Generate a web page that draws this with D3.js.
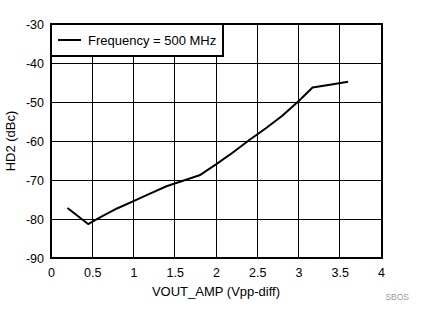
<!DOCTYPE html>
<html><head><meta charset="utf-8">
<script src="https://cdn.jsdelivr.net/npm/d3@7"></script>
<style>body{margin:0;background:#fff}svg{display:block}text{font-family:Arial,"Liberation Sans",sans-serif}</style>
</head><body>
<script>
const xValues = [0.2, 0.45, 0.6, 0.8, 1.0, 1.2, 1.4, 1.6, 1.8, 2.0, 2.2, 2.4, 2.6, 2.8, 3.0, 3.17, 3.4, 3.6];
const hd2Values = [-77.2, -81.3, -79.5, -77.3, -75.4, -73.5, -71.6, -70.2, -68.8, -66.0, -63.0, -59.8, -56.8, -53.6, -49.8, -46.3, -45.5, -44.8];
const xTicks = [0, 0.5, 1, 1.5, 2, 2.5, 3, 3.5, 4];
const yTicks = [-30, -40, -50, -60, -70, -80, -90];
const seriesName = "Frequency = 500 MHz";

const W = 426, H = 324;
const L = 51, R = 381, T = 24, B = 258;
const svg = d3.select("body").append("svg").attr("width", W).attr("height", H);
const x = d3.scaleLinear().domain([0, 4]).range([L, R]);
const y = d3.scaleLinear().domain([-90, -30]).range([B, T]);

// grid
svg.append("g").selectAll("line").data(xTicks.slice(1, -1)).join("line")
  .attr("x1", d => x(d)).attr("x2", d => x(d)).attr("y1", T).attr("y2", B)
  .attr("stroke", "#000").attr("stroke-width", 1).attr("shape-rendering", "crispEdges");
svg.append("g").selectAll("line").data(yTicks.slice(1, -1)).join("line")
  .attr("x1", L).attr("x2", R).attr("y1", d => y(d)).attr("y2", d => y(d))
  .attr("stroke", "#000").attr("stroke-width", 1).attr("shape-rendering", "crispEdges");

// axes labels via d3 axes
const xAxis = svg.append("g").attr("transform", `translate(0,${B})`)
  .call(d3.axisBottom(x).tickValues(xTicks).tickSize(0).tickPadding(10).tickFormat(d => String(d)));
xAxis.select(".domain").remove();
xAxis.selectAll("text").attr("font-size", 12.5).attr("fill", "#000").attr("font-family", "Arial, 'Liberation Sans', sans-serif");
const yAxis = svg.append("g").attr("transform", `translate(${L},0)`)
  .call(d3.axisLeft(y).tickValues(yTicks).tickSize(0).tickPadding(7).tickFormat(d => String(d)));
yAxis.select(".domain").remove();
yAxis.selectAll("text").attr("font-size", 12.5).attr("fill", "#000").attr("font-family", "Arial, 'Liberation Sans', sans-serif");

// data line
svg.append("path").datum(xValues.map((v, i) => [v, hd2Values[i]]))
  .attr("d", d3.line().x(d => x(d[0])).y(d => y(d[1])))
  .attr("fill", "none").attr("stroke", "#000").attr("stroke-width", 2).attr("stroke-linejoin", "round");

// frame
svg.append("rect").attr("x", L).attr("y", T).attr("width", R - L + 1).attr("height", B - T)
  .attr("fill", "none").attr("stroke", "#000").attr("stroke-width", 2);

// legend
const lg = svg.append("g");
lg.append("rect").attr("x", L).attr("y", T).attr("width", 172).attr("height", 32)
  .attr("fill", "#fff").attr("stroke", "#000").attr("stroke-width", 2);
lg.append("line").attr("x1", 58).attr("x2", 81).attr("y1", 40).attr("y2", 40)
  .attr("stroke", "#000").attr("stroke-width", 2);
lg.append("text").attr("x", 88).attr("y", 45).attr("font-size", 13).attr("fill", "#000").text(seriesName);

// axis titles
svg.append("text").attr("x", 216).attr("y", 296).attr("text-anchor", "middle").attr("font-size", 13).attr("fill", "#000").text("VOUT_AMP (Vpp-diff)");
svg.append("text").attr("transform", `translate(15,141) rotate(-90)`).attr("text-anchor", "middle").attr("font-size", 13).attr("fill", "#000").text("HD2 (dBc)");
svg.append("text").attr("x", 409).attr("y", 300).attr("text-anchor", "end").attr("font-size", 8.5).attr("fill", "#999").text("SBOS");
</script>
</body></html>
